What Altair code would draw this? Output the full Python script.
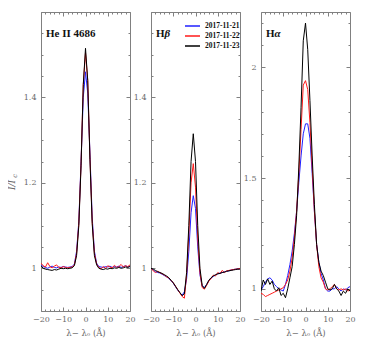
import altair as alt
import pandas as pd

# ---------------- data ----------------
wave = list(range(-20, 21))
dates = ["2017-11-21", "2017-11-22", "2017-11-23"]
colors = ["#2020ff", "#ff1a1a", "#000000"]

heii_21 = [1.008, 1.004, 1.002, 1.000, 1.003, 1.005, 1.002, 1.001, 1.003, 1.002,
           1.004, 1.003, 1.002, 1.003, 1.004, 1.010, 1.040, 1.110, 1.250, 1.400,
           1.460, 1.410, 1.270, 1.120, 1.040, 1.012, 1.004, 1.003, 1.002, 1.004,
           1.003, 1.005, 1.002, 1.004, 1.003, 1.005, 1.002, 1.004, 1.006, 1.003, 1.005]
heii_22 = [1.012, 1.006, 1.003, 1.013, 1.004, 1.001, 1.005, 1.008, 1.002, 1.001,
           1.004, 1.002, 1.001, 1.002, 1.003, 1.008, 1.035, 1.105, 1.245, 1.430,
           1.505, 1.440, 1.260, 1.110, 1.035, 1.010, 1.002, 0.999, 1.004, 1.000,
           1.006, 1.003, 1.001, 1.007, 1.002, 1.004, 1.009, 1.003, 1.006, 1.004, 1.008]
heii_23 = [1.006, 1.000, 0.998, 0.997, 0.996, 0.995, 0.997, 0.996, 0.998, 1.000,
           0.999, 1.000, 0.999, 1.000, 1.001, 1.006, 1.030, 1.100, 1.240, 1.430,
           1.515, 1.440, 1.255, 1.105, 1.030, 1.008, 1.000, 0.998, 0.997, 0.999,
           0.998, 1.000, 0.999, 1.001, 1.000, 1.002, 1.000, 1.001, 1.003, 1.002, 1.004]

hb_21 = [1.000, 0.996, 0.992, 0.990, 0.989, 0.986, 0.983, 0.980, 0.976, 0.971,
         0.965, 0.957, 0.949, 0.942, 0.937, 0.945, 0.975, 1.040, 1.130, 1.170,
         1.140, 1.050, 0.985, 0.958, 0.955, 0.962, 0.971, 0.977, 0.981, 0.984,
         0.987, 0.989, 0.990, 0.992, 0.993, 0.994, 0.996, 0.997, 0.998, 0.998, 0.999]
hb_22 = [1.000, 0.994, 0.990, 0.993, 0.990, 0.987, 0.984, 0.980, 0.977, 0.972,
         0.966, 0.958, 0.950, 0.942, 0.934, 0.930, 0.985, 1.080, 1.200, 1.245,
         1.190, 1.070, 0.990, 0.955, 0.951, 0.960, 0.970, 0.976, 0.984, 0.982,
         0.990, 0.987, 0.995, 0.990, 0.994, 0.995, 0.996, 0.997, 0.998, 0.998, 1.000]
hb_23 = [1.000, 0.998, 0.995, 0.992, 0.990, 0.988, 0.985, 0.982, 0.978, 0.972,
         0.966, 0.958, 0.950, 0.943, 0.936, 0.940, 0.990, 1.100, 1.250, 1.315,
         1.250, 1.100, 1.000, 0.960, 0.953, 0.962, 0.972, 0.978, 0.982, 0.985,
         0.987, 0.988, 0.990, 0.991, 0.993, 0.994, 0.995, 0.996, 0.997, 0.998, 0.998]

ha_21 = [0.995, 1.010, 1.030, 1.045, 1.050, 1.040, 1.020, 1.010, 1.000, 0.995,
         0.990, 1.020, 1.060, 1.110, 1.170, 1.250, 1.350, 1.480, 1.600, 1.700,
         1.745, 1.745, 1.680, 1.520, 1.350, 1.200, 1.120, 1.070, 1.040, 1.000,
         0.990, 0.990, 1.000, 1.000, 1.010, 1.000, 0.990, 1.000, 0.995, 1.005, 1.010]
ha_22 = [0.980, 0.975, 0.965, 0.970, 0.975, 0.980, 0.985, 0.990, 0.995, 1.000,
         1.005, 1.020, 1.040, 1.080, 1.140, 1.230, 1.350, 1.520, 1.720, 1.920,
         1.940, 1.900, 1.750, 1.550, 1.350, 1.200, 1.100, 1.050, 1.030, 1.000,
         0.995, 1.000, 1.010, 1.020, 1.000, 0.995, 1.000, 0.995, 1.000, 0.990, 0.995]
ha_23 = [0.990, 1.040, 1.020, 1.045, 1.020, 1.035, 1.000, 0.990, 1.005, 0.970,
         0.980, 0.960, 1.000, 1.050, 1.100, 1.200, 1.330, 1.550, 1.820, 2.120,
         2.200, 2.080, 1.850, 1.600, 1.380, 1.200, 1.120, 1.080, 1.060, 1.030,
         1.000, 0.995, 1.000, 1.020, 1.000, 0.990, 0.970, 0.990, 0.980, 1.000, 0.990]

x_labels = [-20, -10, 0, 10, 20]
x_ticks = list(range(-20, 21, 2))
y_labels_12 = [1.0, 1.2, 1.4]
y_ticks_12 = [round(0.9 + 0.05 * i, 2) for i in range(15)]
y_labels_3 = [1.0, 1.5, 2.0]
y_ticks_3 = [round(0.9 + 0.1 * i, 1) for i in range(14)]


def long_df(series):
    rows = []
    for d, ys in zip(dates, series):
        for xv, yv in zip(wave, ys):
            rows.append({"x": xv, "y": yv, "date": d})
    return pd.DataFrame(rows)


# ---------------- style ----------------
W, H = 89, 299
FONT = "DejaVu Serif"
TFONT = "Liberation Serif"
LAB = "#6a6a6a"
AX = "#808080"
XTITLE = "λ− λₒ (Å)"


def tick_size(test):
    return {"condition": {"test": test, "value": 4}, "value": 2}


def panel(series, ydom, ylabels, yticks, ymaj, title_parts, legend, ytitle=False):
    df = long_df(series)
    base = alt.Chart(df)
    xs = alt.Scale(domain=[-20, 20], nice=False, zero=False)
    ys = alt.Scale(domain=ydom, nice=False, zero=False)
    xmaj = "abs(datum.value % 10) < 0.001"

    lines = base.mark_line(strokeWidth=1, clip=True).encode(
        x=alt.X("x:Q", scale=xs, axis=alt.Axis(
            orient="bottom", values=x_labels, ticks=False, domain=False, grid=False,
            labelOverlap=False, labelFlush=False,
            labelFont=FONT, labelFontSize=8, labelColor=LAB, labelPadding=4,
            title=XTITLE, titleFont=FONT, titleFontSize=8.5, titleFontWeight="normal",
            titleColor=LAB, titlePadding=5)),
        y=alt.Y("y:Q", scale=ys, axis=alt.Axis(
            orient="left", values=ylabels, ticks=False, domain=False, grid=False,
            labelOverlap=False, labelFlush=False,
            format="~g", labelFont=FONT, labelFontSize=8, labelColor=LAB,
            labelPadding=5, title=None)),
        color=alt.Color("date:N", scale=alt.Scale(domain=dates, range=colors), legend=legend),
    )
    t1 = base.mark_point(opacity=0).encode(
        x=alt.X("x:Q", scale=xs, axis=alt.Axis(
            orient="top", offset=-H, values=x_ticks, labels=False, grid=False,
            domainColor=AX, tickColor=AX, tickSize=tick_size(xmaj), title=None)),
        y=alt.Y("y:Q", scale=ys, axis=alt.Axis(
            orient="right", offset=-W, values=yticks, labels=False, grid=False,
            domainColor=AX, tickColor=AX, tickSize=tick_size(ymaj), title=None)),
    )
    t2 = base.mark_point(opacity=0).encode(
        x=alt.X("x:Q", scale=xs, axis=alt.Axis(
            orient="bottom", offset=-H, values=x_ticks, labels=False, grid=False,
            domainColor=AX, tickColor=AX, tickSize=tick_size(xmaj), title=None)),
        y=alt.Y("y:Q", scale=ys, axis=alt.Axis(
            orient="left", offset=-W, values=yticks, labels=False, grid=False,
            domainColor=AX, tickColor=AX, tickSize=tick_size(ymaj), title=None)),
    )
    layers = [lines, t1, t2]

    one = pd.DataFrame({"k": [0]})
    xpos = 5
    for txt, style, dx in title_parts:
        layers.append(alt.Chart(one).mark_text(
            align="left", baseline="middle", font=TFONT, fontSize=11,
            fontWeight="bold", fontStyle=style, color="#111111", text=txt
        ).encode(x=alt.value(xpos), y=alt.value(22)))
        xpos += dx

    if ytitle:
        layers.append(alt.Chart(one).mark_text(
            angle=270, font=FONT, fontSize=9, fontStyle="italic", color=LAB, text="I/I"
        ).encode(x=alt.value(-29), y=alt.value(173)))
        layers.append(alt.Chart(one).mark_text(
            angle=270, font=FONT, fontSize=6.5, fontStyle="italic", color=LAB, text="c"
        ).encode(x=alt.value(-26), y=alt.value(164)))

    return alt.layer(*layers).resolve_axis(x="independent", y="independent").properties(
        width=W, height=H)


leg = alt.Legend(orient="none", legendX=143, legendY=9, title=None,
                 symbolType="stroke", symbolSize=225, symbolStrokeWidth=1.3,
                 clipHeight=10, rowPadding=0, labelFont=TFONT, labelFontSize=7.5,
                 labelFontWeight="bold", labelColor="#111111", labelOffset=4)

p1 = panel([heii_21, heii_22, heii_23], [0.9, 1.6], y_labels_12, y_ticks_12,
           "abs(datum.value*5 - round(datum.value*5)) < 0.001",
           [("He II 4686", "normal", 0)], leg, ytitle=True)
p2 = panel([hb_21, hb_22, hb_23], [0.9, 1.6], y_labels_12, y_ticks_12,
           "abs(datum.value*5 - round(datum.value*5)) < 0.001",
           [("H", "normal", 8.5), ("β", "italic", 0)], leg)
p3 = panel([ha_21, ha_22, ha_23], [0.9, 2.25], y_labels_3, y_ticks_3,
           "abs(datum.value*2 - round(datum.value*2)) < 0.001",
           [("H", "normal", 8.5), ("α", "italic", 0)], leg)

chart = alt.hconcat(p1, p2, p3, spacing=21, bounds="flush").configure_view(
    stroke=None).properties(padding={"left": 0, "top": 3, "right": 5, "bottom": 5})

chart.save("out.html", embed_options={"renderer": "svg", "actions": False})
